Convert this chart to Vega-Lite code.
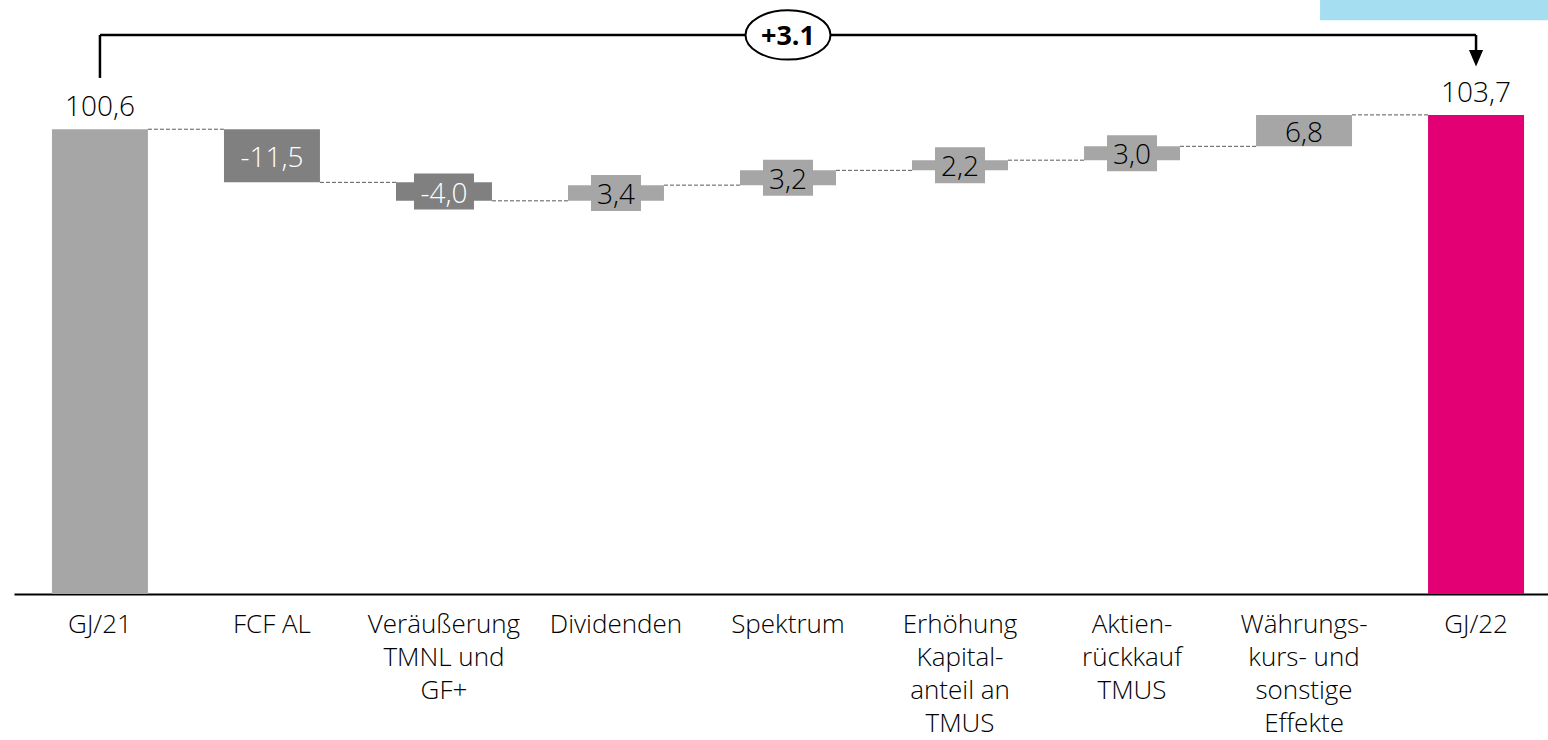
{
  "$schema": "https://vega.github.io/schema/vega-lite/v6.json",
  "width": 1534,
  "height": 594,
  "padding": {"left": 14, "right": 0, "top": 0, "bottom": 146},
  "autosize": {"type": "none"},
  "background": "white",
  "config": {"view": {"stroke": null}, "font": "Open Sans"},
  "data": {"values": [
    {"cat": "GJ/21", "start": 0, "end": 100.6, "label": "100,6", "kind": "total"},
    {"cat": "FCF AL", "start": 100.6, "end": 89.1, "label": "-11,5", "kind": "neg"},
    {"cat": "Veräußerung|TMNL und|GF+", "start": 89.1, "end": 85.1, "label": "-4,0", "kind": "neg"},
    {"cat": "Dividenden", "start": 85.1, "end": 88.5, "label": "3,4", "kind": "pos"},
    {"cat": "Spektrum", "start": 88.5, "end": 91.7, "label": "3,2", "kind": "pos"},
    {"cat": "Erhöhung|Kapital-|anteil an|TMUS", "start": 91.7, "end": 93.9, "label": "2,2", "kind": "pos"},
    {"cat": "Aktien-|rückkauf|TMUS", "start": 93.9, "end": 96.9, "label": "3,0", "kind": "pos"},
    {"cat": "Währungs-|kurs- und|sonstige|Effekte", "start": 96.9, "end": 103.7, "label": "6,8", "kind": "pos"},
    {"cat": "GJ/22", "start": 0, "end": 103.7, "label": "103,7", "kind": "end"}
  ]},
  "encoding": {
    "x": {
      "field": "cat", "type": "nominal", "sort": null,
      "scale": {"type": "band", "paddingInner": 0.442, "paddingOuter": 0.18, "align": 0.613},
      "axis": {
        "title": null, "domain": true, "domainColor": "#000000", "domainWidth": 2,
        "ticks": false, "labelAngle": 0, "labelAlign": "center", "labelBaseline": "top",
        "labelFont": "Open Sans", "labelFontSize": 26, "labelFontWeight": 350, "labelColor": "#000000",
        "labelPadding": 17, "labelLineHeight": 33, "labelLimit": 0, "labelOverlap": false,
        "labelExpr": "split(datum.value, '|')"
      }
    }
  },
  "layer": [
    {
      "transform": [
        {"window": [{"op": "lead", "field": "cat", "as": "next"}]},
        {"filter": "datum.next != null"}
      ],
      "mark": {"type": "rule", "color": "#595959", "strokeWidth": 1, "strokeDash": [4, 2], "xOffset": 48, "x2Offset": -48},
      "encoding": {
        "x2": {"field": "next"},
        "y": {"field": "end", "type": "quantitative", "scale": {"domain": [0, 128.57], "nice": false, "zero": true}, "axis": null}
      }
    },
    {
      "mark": {"type": "bar"},
      "encoding": {
        "y": {"field": "start", "type": "quantitative"},
        "y2": {"field": "end"},
        "color": {"field": "kind", "type": "nominal", "legend": null,
          "scale": {"domain": ["total", "neg", "pos", "end"], "range": ["#a6a6a6", "#808080", "#a6a6a6", "#e20074"]}}
      }
    },
    {
      "transform": [
        {"filter": "datum.kind == 'pos' || datum.kind == 'neg'"},
        {"filter": "abs(datum.end - datum.start) < 5"},
        {"calculate": "(datum.start + datum.end) / 2", "as": "mid"}
      ],
      "mark": {"type": "tick", "orient": "horizontal", "thickness": 36, "opacity": 1},
      "encoding": {
        "y": {"field": "mid", "type": "quantitative"},
        "size": {"condition": {"test": "datum.end < datum.start", "value": 60}, "value": 50},
        "color": {"field": "kind", "type": "nominal", "legend": null}
      }
    },
    {
      "transform": [
        {"filter": "datum.kind == 'pos' || datum.kind == 'neg'"},
        {"calculate": "(datum.start + datum.end) / 2", "as": "mid"}
      ],
      "mark": {"type": "text", "baseline": "middle", "align": "center", "fontSize": 28, "fontWeight": 350, "font": "Open Sans", "dy": 3},
      "encoding": {
        "y": {"field": "mid", "type": "quantitative"},
        "text": {"field": "label"},
        "color": {"condition": {"test": "datum.kind == 'neg'", "value": "#ffffff"}, "value": "#000000"}
      }
    },
    {
      "transform": [{"filter": "datum.kind == 'total' || datum.kind == 'end'"}],
      "mark": {"type": "text", "baseline": "alphabetic", "align": "center", "fontSize": 28, "fontWeight": 350, "font": "Open Sans", "dy": -13, "color": "#000000"},
      "encoding": {
        "y": {"field": "end", "type": "quantitative"},
        "text": {"field": "label"}
      }
    },
    {
      "data": {"values": [{}]},
      "mark": {"type": "rect", "color": "#a5def0"},
      "encoding": {
        "x": {"datum": "Währungs-|kurs- und|sonstige|Effekte", "bandPosition": 0.667},
        "x2": {"datum": "GJ/22", "bandPosition": 1.3},
        "y": {"datum": 124.2, "type": "quantitative"},
        "y2": {"datum": 140}
      }
    },
    {
      "data": {"values": [{}]},
      "mark": {"type": "rule", "color": "#000000", "strokeWidth": 2.5},
      "encoding": {
        "x": {"datum": "GJ/21"},
        "y": {"datum": 111.7, "type": "quantitative"},
        "y2": {"datum": 121}
      }
    },
    {
      "data": {"values": [{}]},
      "mark": {"type": "rule", "color": "#000000", "strokeWidth": 2.5},
      "encoding": {
        "x": {"datum": "GJ/21"},
        "x2": {"datum": "GJ/22"},
        "y": {"datum": 121, "type": "quantitative"}
      }
    },
    {
      "data": {"values": [{}]},
      "mark": {"type": "rule", "color": "#000000", "strokeWidth": 2.5},
      "encoding": {
        "x": {"datum": "GJ/22"},
        "y": {"datum": 117.3, "type": "quantitative"},
        "y2": {"datum": 121}
      }
    },
    {
      "data": {"values": [{}]},
      "mark": {"type": "point", "shape": "M-0.85,-1L0.85,-1L0,1Z", "size": 276, "filled": true, "color": "#000000", "opacity": 1},
      "encoding": {
        "x": {"datum": "GJ/22"},
        "y": {"datum": 115.95, "type": "quantitative"}
      }
    },
    {
      "data": {"values": [{}]},
      "mark": {"type": "point", "shape": "M-1,0A1,0.58,0,1,1,1,0A1,0.58,0,1,1,-1,0Z", "size": 7225, "filled": true, "fill": "#ffffff", "stroke": "#000000", "strokeWidth": 2, "opacity": 1},
      "encoding": {
        "x": {"datum": "Spektrum"},
        "y": {"datum": 121, "type": "quantitative"}
      }
    },
    {
      "data": {"values": [{}]},
      "mark": {"type": "text", "text": "+3.1", "fontSize": 27, "fontWeight": "bold", "font": "Open Sans", "baseline": "middle", "align": "center", "color": "#000000", "dy": 2},
      "encoding": {
        "x": {"datum": "Spektrum"},
        "y": {"datum": 121, "type": "quantitative"}
      }
    }
  ]
}
